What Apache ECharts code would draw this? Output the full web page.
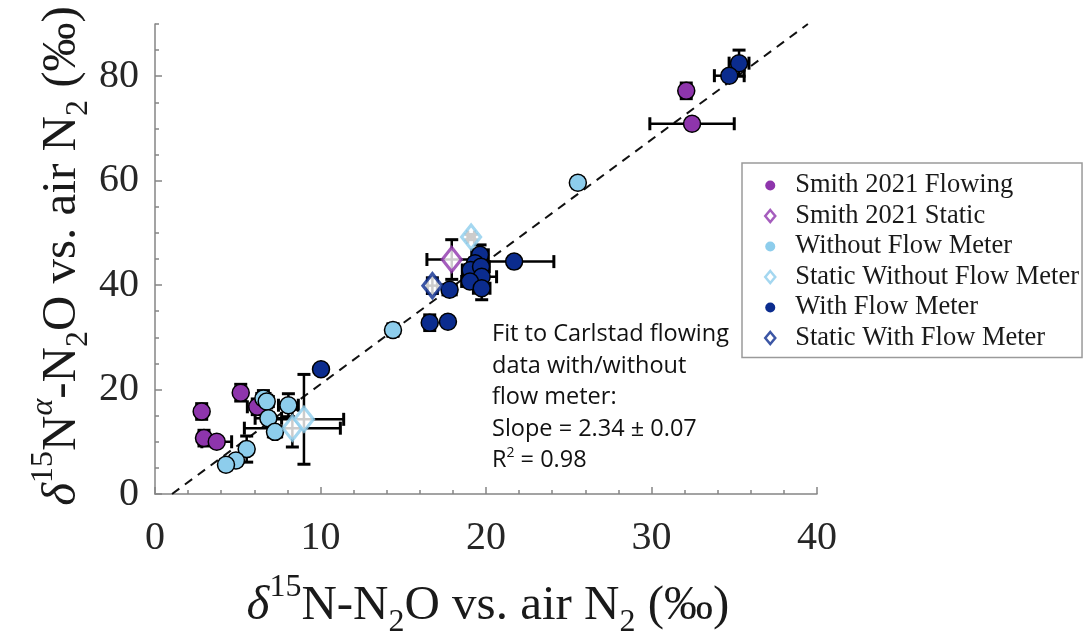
<!DOCTYPE html>
<html>
<head>
<meta charset="utf-8">
<script src="https://cdn.jsdelivr.net/npm/echarts@6/dist/echarts.min.js"></script>
<style>html,body{margin:0;padding:0;background:#fff;}#c{width:1090px;height:642px;}</style>
</head>
<body>
<div id="c"></div>
<script>
// ---- data (x, y, x-error, y-error) ----
const smithFlowX  = [32.1, 32.45, 2.82, 2.96, 3.73, 5.18, 6.18];
const smithFlowY  = [77.2, 70.9, 15.8, 10.7, 10.0, 19.4, 16.7];
const smithFlowXE = [0.0, 2.55, 0.2, 0.3, 0.9, 0.3, 0.6];
const smithFlowYE = [1.5, 0.5, 1.5, 1.5, 0.5, 1.6, 1.5];

const smithStaticX  = [17.93];
const smithStaticY  = [44.9];
const smithStaticXE = [1.5];
const smithStaticYE = [3.8];

const noMeterX  = [25.55, 14.38, 6.55, 6.75, 8.06, 6.85, 7.25, 5.54, 4.89, 4.29];
const noMeterY  = [59.6, 31.4, 18.3, 17.7, 17.0, 14.5, 11.9, 8.6, 6.4, 5.6];
const noMeterXE = [0.3, 0.3, 0.4, 0.4, 0.6, 0.8, 0.4, 0.3, 0.3, 0.3];
const noMeterYE = [0.8, 1.2, 1.5, 1.2, 2.2, 1.0, 1.0, 2.5, 0.5, 0.5];

const staticNoMeterX  = [8.3, 9.0, 19.1];
const staticNoMeterY  = [12.6, 14.3, 49.2];
const staticNoMeterXE = [2.9, 2.4, 0.2];
const staticNoMeterYE = [3.6, 8.6, 0.5];

const meterX  = [35.29, 34.7, 10.03, 21.7, 19.64, 19.34, 19.07, 19.7, 19.74, 19.03, 19.74, 17.8, 16.6, 17.7];
const meterY  = [82.5, 80.1, 23.9, 44.5, 45.8, 44.2, 42.9, 43.5, 41.6, 40.7, 39.4, 39.1, 32.8, 33.0];
const meterXE = [0.6, 0.9, 0.2, 2.4, 0.5, 0.3, 0.5, 0.5, 0.9, 0.5, 0.5, 0.4, 0.3, 0.2];
const meterYE = [2.5, 0.6, 0.5, 0.5, 1.9, 0.8, 1.0, 1.0, 1.2, 1.0, 2.2, 0.5, 1.5, 0.5];

const staticMeterX  = [16.76];
const staticMeterY  = [39.9];
const staticMeterXE = [0.3];
const staticMeterYE = [1.5];

// dashed fit line end points
const fitLineX = [1.03, 39.45];
const fitLineY = [0, 90];

const xTicks = [0, 10, 20, 30, 40];
const yTicks = [0, 20, 40, 60, 80];

const seriesNames = ['Smith 2021 Flowing', 'Smith 2021 Static', 'Without Flow Meter',
                     'Static Without Flow Meter', 'With Flow Meter', 'Static With Flow Meter'];

// ---- styling ----
const PURPLE = '#8E35AC', LIGHT = '#8DCDEC', DARK = '#0B2C8E';
const groups = [
  {name: seriesNames[0], x: smithFlowX, y: smithFlowY, xe: smithFlowXE, ye: smithFlowYE, color: PURPLE, diamond: false},
  {name: seriesNames[1], x: smithStaticX, y: smithStaticY, xe: smithStaticXE, ye: smithStaticYE, color: PURPLE, diamond: true},
  {name: seriesNames[2], x: noMeterX, y: noMeterY, xe: noMeterXE, ye: noMeterYE, color: LIGHT, diamond: false},
  {name: seriesNames[3], x: staticNoMeterX, y: staticNoMeterY, xe: staticNoMeterXE, ye: staticNoMeterYE, color: LIGHT, diamond: true},
  {name: seriesNames[4], x: meterX, y: meterY, xe: meterXE, ye: meterYE, color: DARK, diamond: false},
  {name: seriesNames[5], x: staticMeterX, y: staticMeterY, xe: staticMeterXE, ye: staticMeterYE, color: DARK, diamond: true}
];

const CAP = 6.5;
function errRender(params, api) {
  const x = api.value(0), y = api.value(1), xe = api.value(2), ye = api.value(3);
  const st = {stroke: '#000', lineWidth: 2.5};
  const cs = {stroke: '#000', lineWidth: 3};
  const children = [];
  if (ye > 0) {
    const top = api.coord([x, y + ye]), bot = api.coord([x, y - ye]);
    children.push({type: 'line', shape: {x1: top[0], y1: top[1], x2: bot[0], y2: bot[1]}, style: st});
    children.push({type: 'line', shape: {x1: top[0] - CAP, y1: top[1], x2: top[0] + CAP, y2: top[1]}, style: cs});
    children.push({type: 'line', shape: {x1: bot[0] - CAP, y1: bot[1], x2: bot[0] + CAP, y2: bot[1]}, style: cs});
  }
  if (xe > 0) {
    const l = api.coord([x - xe, y]), r = api.coord([x + xe, y]);
    children.push({type: 'line', shape: {x1: l[0], y1: l[1], x2: r[0], y2: r[1]}, style: st});
    children.push({type: 'line', shape: {x1: l[0], y1: l[1] - CAP, x2: l[0], y2: l[1] + CAP}, style: cs});
    children.push({type: 'line', shape: {x1: r[0], y1: r[1] - CAP, x2: r[0], y2: r[1] + CAP}, style: cs});
  }
  return {type: 'group', children: children};
}

const series = [{
  type: 'line', name: 'fit', data: fitLineX.map((v, i) => [v, fitLineY[i]]),
  symbol: 'none', silent: true,
  lineStyle: {color: '#111', width: 2, type: [9, 7]}, z: 1
}];
groups.forEach(g => {
  const d = g.x.map((v, i) => [v, g.y[i], g.xe[i], g.ye[i]]);
  series.push({type: 'custom', name: g.name + ' err', renderItem: errRender, data: d,
    encode: {x: 0, y: 1}, silent: true, z: 2});
  series.push({type: 'scatter', name: g.name, data: d.map(p => [p[0], p[1]]),
    symbol: g.diamond ? 'diamond' : 'circle',
    symbolSize: g.diamond ? [19, 24] : 17,
    itemStyle: g.diamond ? {color: '#fff', borderColor: g.color, borderWidth: 3.2}
                         : {color: g.color, borderColor: '#000', borderWidth: 1.5, opacity: 1},
    z: 2});
});

const serif = '"Liberation Serif", "DejaVu Serif", serif';
const TF = 49, SF = 32;
const titleRich = {
  i: {fontFamily: serif, fontSize: TF, fontStyle: 'italic', fill: '#1a1a1a'},
  sup: {fontFamily: serif, fontSize: SF, padding: [0, 0, 36, 0], fill: '#1a1a1a'},
  supi: {fontFamily: serif, fontSize: SF, fontStyle: 'italic', padding: [0, 0, 36, 0], fill: '#1a1a1a'},
  sub: {fontFamily: serif, fontSize: SF, padding: [34, 0, 0, 0], fill: '#1a1a1a'},
  n: {fontFamily: serif, fontSize: TF, fill: '#1a1a1a'}
};

const chart = echarts.init(document.getElementById('c'));
chart.setOption({
  animation: false,
  backgroundColor: '#fff',
  grid: {left: 155, top: 24, width: 662, height: 470, containLabel: false},
  xAxis: {
    type: 'value', min: xTicks[0], max: xTicks[xTicks.length - 1], interval: 10,
    axisLine: {show: true, lineStyle: {color: '#858585', width: 1.5}},
    axisTick: {show: true, inside: true, length: 7, lineStyle: {color: '#858585', width: 1.5}},
    minorTick: {show: true, splitNumber: 5, length: 4, lineStyle: {color: '#858585', width: 1.5}},
    axisLabel: {fontFamily: serif, fontSize: 40, color: '#262626', margin: 24},
    splitLine: {show: false}
  },
  yAxis: [{
    type: 'value', min: 0, max: 90, interval: 5,
    axisLine: {show: true, lineStyle: {color: '#858585', width: 1.5}},
    axisTick: {show: true, inside: true, length: 4, lineStyle: {color: '#858585', width: 1.5}},
    axisLabel: {fontFamily: serif, fontSize: 40, color: '#262626', margin: 16,
      formatter: v => (yTicks.indexOf(v) >= 0 ? String(v) : '')},
    splitLine: {show: false}
  }, {
    type: 'value', min: 0, max: 90, interval: 20, position: 'left',
    axisLine: {show: false},
    axisTick: {show: true, inside: true, length: 7, customValues: yTicks, lineStyle: {color: '#858585', width: 1.5}},
    axisLabel: {show: false},
    splitLine: {show: false}
  }],
  legend: {
    orient: 'vertical', left: 742, top: 163,
    data: groups.map(g => ({
      name: g.name, icon: g.diamond ? 'diamond' : 'circle',
      itemStyle: g.diamond ? {color: '#fff', borderColor: g.color, borderWidth: 2.5}
                           : {color: g.color, borderWidth: 0}
    })),
    itemWidth: 10, itemHeight: 12, itemGap: 3.5,
    padding: [9, 3, 6, 22],
    borderColor: '#9a9a9a', borderWidth: 1.5, backgroundColor: '#fff',
    textStyle: {fontFamily: serif, fontSize: 26.5, color: '#1a1a1a', lineHeight: 27, padding: [0, 0, 0, 15]},
    selectedMode: false
  },
  graphic: [
    {type: 'text', x: 492, y: 319, z: 10, style: {
      text: 'Fit to Carlstad flowing\ndata with/without\nflow meter:\nSlope = 2.34 \u00b1 0.07\nR{sup|2} = 0.98',
      fontFamily: '"Open Sans", Lato, sans-serif', fontSize: 23.5, lineHeight: 31.5, fill: '#111',
      textAlign: 'left', textVerticalAlign: 'top',
      rich: {sup: {fontFamily: '"Open Sans", sans-serif', fontSize: 14, lineHeight: 15, padding: [0, 0, 15, 0], fill: '#111'}}
    }},
    {type: 'text', x: 488, y: 606, z: 10, style: {
      text: '{i|\u03b4}{sup|15}{n|N-N}{sub|2}{n|O vs. air N}{sub|2}{n| (\u2030)}',
      rich: titleRich, textAlign: 'center', textVerticalAlign: 'middle'
    }},
    {type: 'text', x: 62, y: 256, rotation: Math.PI / 2, z: 10, style: {
      text: '{i|\u03b4}{sup|15}{n|N}{supi|\u03b1}{n|-N}{sub|2}{n|O vs. air N}{sub|2}{n| (\u2030)}',
      rich: titleRich, textAlign: 'center', textVerticalAlign: 'middle'
    }}
  ],
  series: series
});
</script>
</body>
</html>
